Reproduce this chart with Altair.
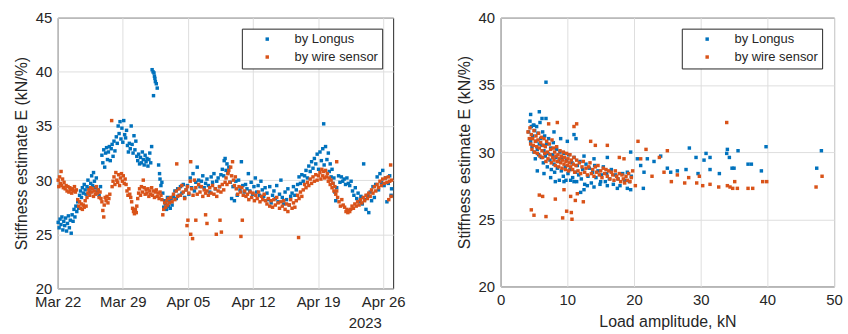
import altair as alt
import pandas as pd

# ---------------- data ----------------
series_names = ["by Longus", "by wire sensor"]
series_colors = ["#0072BD", "#D95319"]
tick_days = [0, 7, 14, 21, 28, 35]
tick_labels = ["Mar 22", "Mar 29", "Apr 05", "Apr 12", "Apr 19", "Apr 26"]
year_label = "2023"
y_ticks_left = [20, 25, 30, 35, 40, 45]
y_ticks_right = [20, 25, 30, 35, 40]
x_ticks_right = [0, 10, 20, 30, 40, 50]

# left panel: (days since Mar 22, stiffness) by Longus
longus_time = [
    (0.05,26.1),(0.15,25.6),(0.25,26.4),(0.35,25.9),(0.45,26.6),(0.55,25.4),(0.65,26.2),(0.75,25.8),
    (0.85,26.5),(0.95,25.3),(1.05,26.0),(1.15,26.7),(1.25,25.6),(1.35,26.3),(1.45,25.1),(1.55,26.8),
    (1.65,26.2),(1.75,27.3),(1.85,26.6),(1.95,27.6),(2.05,27.1),(2.15,28.0),(2.25,27.4),(2.35,28.6),
    (2.45,29.0),(2.55,28.4),(2.65,29.3),(2.75,28.8),(2.85,29.6),(2.95,29.1),(3.05,28.7),(3.15,29.4),
    (3.25,30.0),(3.35,29.2),(3.45,28.9),(3.55,29.7),(3.65,30.4),(3.75,29.5),(3.85,30.7),(3.95,29.9),
    (4.05,29.3),(4.15,30.2),(4.25,28.9),(4.35,29.1),(4.45,28.6),(4.6,29.4),
    (4.75,32.3),(4.85,31.6),(4.95,32.8),(5.05,31.2),(5.15,32.5),(5.25,33.0),(5.35,31.9),(5.45,32.6),
    (5.55,33.1),(5.65,31.8),(5.75,32.9),(5.85,33.3),(5.95,32.2),(6.05,33.6),(6.15,32.7),
    (6.3,34.0),(6.4,33.4),(6.5,35.0),(6.6,34.3),(6.7,35.4),(6.8,33.8),(6.9,34.8),(7.0,33.5),
    (7.1,35.5),(7.2,34.2),(7.3,33.9),(7.4,34.6),(7.5,33.2),
    (7.6,32.6),(7.7,33.4),(7.8,32.9),(7.9,35.0),(8.0,33.3),(8.1,32.5),(8.2,34.1),(8.3,32.8),(8.4,33.6),(8.5,32.2),
    (8.6,31.8),(8.7,32.4),(8.8,31.5),(8.9,32.1),(9.0,31.6),(9.1,32.6),(9.2,31.9),(9.3,31.4),(9.4,32.3),
    (9.5,31.7),(9.6,32.0),(9.7,31.3),(9.8,31.9),(9.9,32.5),(10.0,31.6),(10.1,33.1),
    (10.15,40.2),(10.25,40.0),(10.3,37.8),(10.35,39.9),(10.4,39.6),(10.45,39.4),(10.5,39.1),(10.6,38.9),(10.7,38.5),
    (10.85,31.4),(10.95,30.6),(11.0,30.1),(11.1,29.5),(11.2,29.8),(11.3,28.8),
    (11.4,27.5),(11.5,28.1),(11.6,27.8),(11.7,27.3),(11.8,28.4),(11.9,27.6),(12.0,28.0),(12.1,27.4),(12.2,28.3),(12.3,27.7),
    (12.45,28.5),(12.6,29.0),(12.75,28.3),(12.9,29.2),(13.05,28.6),(13.2,29.4),(13.35,28.8),(13.5,29.6),(13.65,28.4),(13.8,29.1),
    (13.95,29.5),(14.1,28.7),(14.25,30.2),(14.4,29.3),(14.55,30.6),(14.7,29.0),(14.85,29.8),(15.0,31.2),(15.15,30.0),(15.3,29.4),
    (15.45,29.9),(15.6,30.4),(15.75,29.3),(15.9,29.7),(16.05,30.1),(16.2,29.5),(16.35,28.9),(16.5,30.3),(16.65,29.8),
    (16.8,30.6),(16.95,29.2),(17.1,29.9),(17.25,30.2),(17.4,29.4),(17.55,30.5),(17.7,31.0),(17.85,30.4),
    (17.9,31.8),(18.0,32.0),(18.1,30.9),(18.2,31.5),(18.3,30.7),(18.4,31.2),
    (18.55,29.8),(18.7,28.3),(18.85,29.4),(19.0,28.1),(19.15,29.9),(19.3,28.6),(19.45,30.0),(19.6,29.1),(19.75,31.7),
    (19.9,29.5),(20.05,28.9),(20.2,29.6),
    (20.35,29.2),(20.5,30.6),(20.65,29.0),(20.8,29.8),(20.95,28.7),(21.1,29.4),(21.25,30.2),(21.4,28.9),(21.55,29.5),
    (21.7,28.6),(21.85,29.9),(22.0,29.1),(22.15,28.5),(22.3,29.3),
    (22.5,28.8),(22.65,28.2),(22.8,29.4),(22.95,27.9),(23.1,28.6),(23.25,29.0),(23.4,28.3),(23.55,29.5),(23.7,28.0),
    (23.85,28.7),(24.0,30.0),(24.15,28.4),(24.3,27.8),(24.45,28.9),(24.6,28.2),(24.75,29.2),(24.9,27.7),(25.05,28.5),
    (25.2,28.8),(25.35,29.4),(25.5,28.6),(25.65,29.1),(25.8,29.6),
    (25.95,30.3),(26.1,29.7),(26.25,30.5),(26.4,29.9),(26.55,30.4),(26.7,30.9),(26.85,30.2),(27.0,31.3),
    (27.15,30.8),(27.3,31.7),(27.45,31.1),(27.6,32.0),(27.75,31.5),(27.9,32.4),(28.05,31.0),(28.2,32.6),(28.35,31.8),
    (28.6,35.2),(28.5,32.9),(28.65,31.4),(28.8,33.1),(28.95,31.9),(29.1,32.5),
    (29.2,30.8),(29.3,31.5),(29.4,30.3),(29.5,31.0),(29.6,29.7),(29.7,30.2),(29.8,28.9),(29.9,28.1),(30.0,29.3),
    (30.2,30.4),(30.35,29.8),(30.5,30.3),(30.65,29.9),(30.8,30.1),(30.95,29.6),(31.1,30.2),(31.25,29.7),(31.4,29.5),(31.55,29.9),
    (31.7,29.0),(31.85,28.6),(32.0,29.3),(32.15,28.3),(32.3,28.8),(32.45,28.0),(32.6,28.5),(32.75,27.8),
    (32.9,31.5),(33.0,28.2),(33.15,27.3),(33.3,28.6),(33.45,27.0),(33.6,28.9),(33.75,28.1),(33.9,29.4),(34.05,28.4),
    (34.2,29.6),(34.35,30.3),(34.5,29.1),(34.65,30.6),(34.8,29.8),(34.95,30.9),(35.1,29.5),(35.25,30.2),(35.4,28.0),
    (35.55,29.7),(35.7,30.4),(35.85,28.6),(35.9,29.2),
]

# left panel: (days since Mar 22, stiffness) by wire sensor
wire_time = [
    (0.05,30.0),(0.12,29.4),(0.2,30.3),(0.28,29.7),(0.36,30.8),(0.44,29.5),(0.52,30.1),(0.6,29.3),(0.68,29.8),
    (0.8,29.2),(0.9,29.5),(1.0,29.0),(1.1,29.4),(1.2,28.9),(1.3,29.3),(1.4,29.1),(1.5,28.8),(1.6,29.2),(1.7,29.0),
    (1.8,29.4),(1.9,28.9),(2.0,29.1),
    (2.15,28.2),(2.25,27.6),(2.35,28.0),(2.45,27.4),(2.55,27.8),(2.65,27.3),(2.75,27.7),(2.85,27.5),(2.95,28.1),(3.05,27.6),(3.15,28.4),
    (3.25,28.8),(3.35,29.1),(3.45,28.6),(3.55,29.3),(3.65,28.9),(3.75,29.2),(3.85,28.5),(3.95,29.0),(4.05,28.7),
    (4.15,29.4),(4.25,28.8),(4.35,29.1),(4.45,28.4),(4.55,28.9),
    (4.65,28.3),(4.75,28.0),(4.85,27.2),(4.95,26.6),(5.0,27.7),(5.1,28.4),(5.2,28.1),(5.3,28.5),(5.4,27.9),(5.5,28.3),(5.6,28.7),
    (5.8,35.5),
    (5.85,29.4),(5.95,29.9),(6.05,30.3),(6.15,29.6),(6.25,30.7),(6.35,30.0),(6.45,29.8),(6.55,30.5),(6.65,29.5),
    (6.75,30.2),(6.85,30.6),(6.95,29.9),(7.05,30.4),(7.15,29.7),(7.25,30.1),(7.35,29.6),
    (7.45,29.0),(7.55,28.6),(7.65,29.2),(7.75,28.7),(7.85,28.4),(7.95,28.0),
    (8.05,27.4),(8.15,27.1),(8.25,26.9),(8.35,27.3),(8.45,27.0),(8.5,27.6),
    (8.6,28.3),(8.7,28.8),(8.8,29.2),(8.9,28.6),(9.0,29.4),(9.1,28.9),(9.2,30.0),(9.3,29.3),(9.4,28.7),(9.5,29.1),
    (9.6,28.8),(9.7,29.2),(9.8,28.5),(9.9,29.0),(10.0,28.7),(10.1,29.3),(10.2,28.6),(10.3,29.0),(10.4,28.4),
    (10.5,28.9),(10.6,29.1),(10.7,28.5),(10.8,28.8),(10.9,28.3),(11.0,28.9),(11.1,28.6),(11.2,28.2),
    (11.3,26.8),(11.4,27.3),(11.5,27.9),(11.6,27.5),(11.7,28.1),(11.8,27.7),(11.9,28.3),
    (12.0,27.9),(12.15,28.4),(12.3,28.0),(12.45,28.7),(12.6,28.2),(12.75,29.0),(12.8,31.5),(12.9,28.5),(13.05,29.2),
    (13.2,28.6),(13.35,29.5),(13.5,28.9),(13.65,28.3),(13.8,29.1),
    (13.95,29.4),(14.1,28.8),(14.25,29.9),(14.3,31.7),(14.4,29.2),(14.55,28.6),(14.7,30.0),(14.85,29.3),(15.0,28.7),
    (15.15,29.6),(15.3,28.9),(15.45,29.4),(15.6,28.5),(15.75,29.1),(15.9,28.8),
    (14.0,26.3),(13.9,25.8),(14.3,25.0),(14.5,24.6),(14.85,26.3),
    (16.05,29.0),(16.2,28.6),(16.35,29.3),(16.5,28.8),(16.65,29.5),(16.8,28.7),(16.95,29.2),(17.1,28.5),(17.25,29.0),
    (17.4,29.4),(17.55,28.9),(17.7,29.6),(17.85,29.1),(18.0,29.8),
    (15.9,26.8),(16.05,26.0),(17.05,25.0),(17.6,25.2),(17.45,26.3),
    (18.1,30.2),(18.2,29.6),(18.3,30.6),(18.4,30.9),(18.5,29.8),(18.6,31.2),(18.7,30.4),(18.8,31.7),(18.9,30.0),(19.0,29.5),(19.1,30.3),
    (19.2,29.2),(19.35,28.7),(19.5,29.4),(19.65,28.9),(19.8,29.3),(19.95,28.6),(20.1,29.0),(20.25,28.5),
    (19.7,24.8),(19.85,26.3),
    (20.4,28.7),(20.55,28.2),(20.7,28.9),(20.85,28.4),(21.0,28.8),(21.15,28.1),(21.3,28.6),(21.45,28.3),(21.6,28.9),
    (21.75,28.0),(21.9,28.5),(22.05,28.2),(22.2,28.7),(22.35,28.1),
    (22.5,27.8),(22.65,28.3),(22.8,27.6),(22.95,28.1),(23.1,27.5),(23.25,28.2),(23.4,27.7),(23.55,28.4),(23.7,27.9),
    (23.85,27.4),(24.0,28.0),
    (24.15,27.6),(24.3,28.1),(24.45,27.3),(24.6,27.8),(24.75,27.1),(24.9,27.7),(25.05,28.2),(25.2,27.4),(25.35,27.9),(25.5,27.5),
    (25.65,28.1),(25.8,28.6),(25.95,28.3),(26.1,28.9),(26.25,28.5),(25.9,24.7),
    (26.4,29.1),(26.55,29.6),(26.7,29.3),(26.85,29.8),(27.0,29.5),(27.15,30.1),(27.3,29.7),(27.45,30.3),(27.6,29.9),
    (27.75,30.5),(27.9,30.0),(28.05,30.4),
    (28.2,30.7),(28.3,30.1),(28.4,31.0),(28.5,30.4),(28.6,30.8),(28.7,30.2),(28.8,30.9),(28.9,30.3),(29.0,30.6),(29.1,29.9),
    (29.2,30.2),(29.3,29.6),(29.4,30.0),(29.5,29.3),(29.6,29.7),(29.7,29.0),(29.8,29.4),(29.9,28.7),(30.0,29.0),(30.1,28.4),
    (30.0,31.7),
    (30.25,28.0),(30.4,27.6),(30.55,28.2),(30.7,27.7),(30.85,27.5),
    (31.0,27.1),(31.1,27.3),(31.2,27.0),(31.3,27.2),(31.4,27.1),(31.5,27.3),
    (31.65,27.6),(31.8,27.4),(31.95,27.8),(32.1,27.6),(32.25,28.0),(32.4,27.7),(32.55,28.2),(32.7,27.9),(32.85,28.4),
    (33.0,28.1),(33.15,28.6),(33.3,28.3),
    (33.45,28.8),(33.6,28.5),(33.75,29.1),(33.9,28.8),(34.05,29.4),(34.2,29.0),(34.35,29.6),(34.5,29.3),(34.65,29.9),(34.8,29.5),
    (34.95,30.1),(35.1,29.7),(35.25,30.2),(35.4,29.8),(35.55,30.3),(35.6,28.2),(35.7,29.9),(35.8,31.4),(35.85,28.5),(35.9,30.0),
]

# right panel: (load amplitude kN, stiffness) by Longus
longus_load = [
    (4.2,31.5),(4.4,32.3),(4.5,30.8),(4.6,31.9),(4.7,30.4),(4.8,31.2),(4.9,32.0),(5.0,30.0),(5.1,31.6),(5.2,29.5),
    (5.3,30.8),(5.4,31.9),(5.5,30.2),(5.6,31.4),(5.7,29.8),(5.8,30.6),(5.9,32.2),(6.0,31.0),
    (6.1,29.6),(6.2,30.5),(6.3,31.5),(6.4,29.2),(6.5,30.1),(6.6,31.2),(6.7,29.7),(6.9,30.6),(7.0,28.9),(7.1,29.9),
    (7.2,31.0),(7.4,29.4),(7.5,30.3),(7.6,28.7),(7.8,29.8),(7.9,30.7),
    (8.0,29.1),(8.1,28.5),(8.3,29.6),(8.4,30.2),(8.5,28.8),(8.7,29.3),(8.8,27.9),(8.9,30.0),(9.1,28.6),(9.2,29.5),
    (9.4,28.2),(9.5,29.9),(9.7,28.9),(9.8,27.9),(9.9,29.4),
    (10.1,28.4),(10.2,29.8),(10.4,28.7),(10.5,27.9),(10.7,29.2),(10.8,28.1),(11.0,29.6),(11.2,28.5),(11.4,27.8),
    (11.5,29.0),(11.7,28.3),(11.9,29.3),(12.1,28.0),(12.3,28.7),(12.6,27.6),(12.8,29.1),
    (13.1,28.2),(13.3,28.8),(13.6,27.7),(13.8,28.5),(14.1,29.0),(14.3,28.1),(14.6,28.6),(14.9,27.6),(15.1,28.3),
    (15.4,28.9),(15.7,27.8),(15.9,28.4),
    (16.3,28.0),(16.6,28.7),(16.9,27.6),(17.2,28.3),(17.6,28.0),(17.9,27.5),(18.3,28.4),(18.6,27.9),(19.0,28.5),
    (19.3,27.8),(19.6,28.2),
    (6.8,35.2),
    (5.5,28.6),(6.5,28.4),(7.5,28.1),(8.2,27.8),(9.5,27.8),(11.0,27.8),(12.0,27.0),(12.5,27.2),(13.0,27.5),
    (14.0,27.4),(15.0,27.8),(16.0,27.5),(17.5,27.3),(19.0,27.3),(19.5,27.2),(21.4,27.3),
    (4.5,32.8),(5.0,32.0),(5.8,33.0),(6.2,32.5),(6.8,32.5),(8.0,31.5),(9.0,31.0),(10.0,30.8),(11.0,31.3),(11.3,31.0),
    (12.5,29.7),(14.0,29.5),(16.0,29.6),(19.5,30.0),
    (20.5,29.5),(21.0,29.0),(21.5,28.5),(22.0,29.5),(23.0,29.3),(24.0,29.7),(25.0,28.8),(25.5,28.5),(26.5,28.6),
    (27.8,28.7),(28.3,30.3),(29.3,29.6),(29.6,28.4),(30.5,29.4),(30.8,29.9),(31.4,29.6),(31.4,28.7),(32.8,28.4),
    (33.9,29.9),(34.0,30.2),(34.3,29.6),(34.7,28.8),(35.0,28.8),(35.6,30.1),(37.1,29.1),(37.6,29.1),(39.1,28.6),
    (39.8,30.4),(47.4,28.8),(48.1,30.1),
]

# right panel: (load amplitude kN, stiffness) by wire sensor
wire_load = [
    (4.1,31.5),(4.3,31.0),(4.4,31.8),(4.5,30.6),(4.6,31.3),(4.7,30.2),(4.8,31.0),(4.9,30.5),(5.0,31.6),(5.1,30.0),
    (5.2,30.8),(5.3,31.2),(5.4,30.4),(5.5,29.9),(5.6,30.9),(5.7,31.4),(5.8,30.3),(5.9,29.7),(6.0,30.7),
    (6.1,31.1),(6.2,30.1),(6.3,29.6),(6.4,30.5),(6.5,31.0),(6.6,29.9),(6.7,30.4),(6.8,29.3),(6.9,30.8),(7.0,30.0),
    (7.1,29.5),(7.3,30.6),(7.4,29.8),(7.5,30.2),(7.6,29.2),(7.7,30.9),(7.8,29.6),(7.9,30.3),
    (8.0,29.4),(8.1,30.0),(8.2,29.0),(8.3,29.7),(8.4,30.4),(8.5,29.3),(8.6,29.8),(8.7,28.9),(8.8,29.5),(8.9,30.1),
    (9.0,29.2),(9.1,29.7),(9.2,28.8),(9.3,29.4),(9.4,30.0),(9.5,29.1),(9.6,29.6),(9.7,28.7),(9.8,29.3),(9.9,29.9),
    (10.0,29.0),(10.1,29.5),(10.2,28.6),(10.3,29.2),(10.4,29.8),(10.5,28.9),(10.6,29.4),(10.8,28.7),(10.9,29.1),
    (11.0,29.6),(11.1,28.5),(11.3,29.0),(11.4,29.4),(11.6,28.6),(11.8,29.2),(12.0,28.4),(12.2,28.9),(12.4,29.3),
    (12.6,28.5),(12.8,28.8),
    (13.0,28.3),(13.2,28.9),(13.4,29.2),(13.6,28.4),(13.8,28.7),(14.0,28.2),(14.2,28.9),(14.4,28.5),(14.6,29.0),
    (14.8,28.3),(15.0,28.6),(15.2,28.1),(15.4,28.8),(15.6,28.4),(15.8,28.7),
    (16.0,28.2),(16.2,28.6),(16.4,28.0),(16.6,28.5),(16.8,28.3),(17.0,27.9),(17.2,28.6),(17.4,28.2),(17.6,28.0),
    (17.8,28.4),(18.0,27.8),(18.2,28.3),(18.4,28.0),(18.6,27.7),(18.8,28.2),(19.0,27.9),(19.2,28.4),(19.4,27.8),
    (19.6,28.1),(19.8,28.6),
    (4.6,25.7),(5.0,25.3),(5.8,26.8),(6.3,26.7),(6.8,25.2),(8.2,26.5),(9.3,25.1),(9.9,25.6),(10.6,25.5),(10.7,25.0),
    (11.2,26.4),(11.5,26.9),(12.4,26.3),(9.5,27.2),(10.5,26.7),
    (7.2,32.1),(8.5,32.2),(11.0,31.9),(11.4,32.1),(13.5,30.8),(14.2,30.5),(16.0,30.5),(17.8,29.6),(18.5,29.5),
    (20.2,27.5),(20.6,30.8),(21.0,29.5),(21.8,30.2),(22.7,28.2),(23.8,29.6),(24.5,28.5),(25.0,30.1),(25.6,27.8),
    (26.5,28.3),(27.6,27.7),(28.2,28.1),(29.4,27.7),(29.8,28.2),(30.3,27.5),(31.4,27.6),(32.7,27.4),(33.9,32.2),
    (34.0,27.5),(34.4,27.4),(34.8,27.3),(35.1,27.8),(35.5,27.3),(37.1,27.3),(37.8,27.3),(39.3,27.8),(39.9,27.8),
    (47.3,27.4),(48.2,28.2),
]

# ---------------- tables ----------------
def table(pairs_a, pairs_b, xname):
    rows = [{xname: x, "E": e, "series": series_names[0]} for x, e in pairs_a]
    rows += [{xname: x, "E": e, "series": series_names[1]} for x, e in pairs_b]
    return pd.DataFrame(rows)

df_left = table(longus_time, wire_time, "day")
df_right = table(longus_load, wire_load, "load")
df_year = pd.DataFrame({"day": [tick_days[-1]], "t": [year_label]})

TXT = "#262626"
label_expr = "[" + ",".join("'%s'" % s for s in tick_labels) + "][round(datum.value/7)]"

def legend(x, y):
    return alt.Legend(
        title=None, orient="none", legendX=x, legendY=y,
        fillColor="white", strokeColor=TXT, padding=4, cornerRadius=0,
        symbolType="square", symbolSize=12, symbolStrokeWidth=0,
        symbolOffset=15, labelOffset=21, labelFontSize=13, labelColor=TXT,
        rowPadding=4, labelLimit=0,
    )

color_left = alt.Color("series:N", scale=alt.Scale(domain=series_names, range=series_colors),
                       legend=legend(185, 11))
color_right = alt.Color("series:N", scale=alt.Scale(domain=series_names, range=series_colors),
                        legend=legend(182, 11))

pts_left = alt.Chart(df_left).mark_square(size=12, opacity=1).encode(
    x=alt.X("day:Q", scale=alt.Scale(domain=[0, 36.07], nice=False, zero=False),
            axis=alt.Axis(values=tick_days, labelExpr=label_expr, title=None,
                          labelFlush=False, labelOverlap=False)),
    y=alt.Y("E:Q", scale=alt.Scale(domain=[20, 45], nice=False, zero=False),
            axis=alt.Axis(values=y_ticks_left, title="Stiffness estimate E (kN/%)")),
    color=color_left,
)

year_text = alt.Chart(df_year).mark_text(
    fontSize=15, color=TXT, baseline="alphabetic", align="center", dx=-18
).encode(
    x=alt.X("day:Q", title=None),
    y=alt.value(312),
    text="t:N",
)

left = alt.layer(pts_left, year_text).properties(width=337, height=272)

right = alt.Chart(df_right).mark_square(size=12, opacity=1).encode(
    x=alt.X("load:Q", scale=alt.Scale(domain=[0, 50], nice=False, zero=False),
            axis=alt.Axis(values=x_ticks_right, title="Load amplitude, kN",
                          labelFlush=False, labelOverlap=False)),
    y=alt.Y("E:Q", scale=alt.Scale(domain=[20, 40], nice=False, zero=False),
            axis=alt.Axis(values=y_ticks_right, title="Stiffness estimate E (kN/%)")),
    color=color_right,
).properties(width=335, height=270)

chart = alt.hconcat(left, right, spacing=108, bounds="flush").resolve_scale(
    color="independent"
).properties(
    padding={"left": 12, "top": 9, "right": 5, "bottom": 2}
).configure(
    font="Liberation Sans"
).configure_view(
    stroke=TXT, strokeWidth=1
).configure_axis(
    domain=False, ticks=False, grid=True, gridColor="#dedede", gridWidth=1,
    labelFontSize=15, labelColor=TXT, labelPadding=6,
    titleFontSize=16, titleFontWeight="normal", titleColor=TXT, titlePadding=6,
)

chart.save("out.html", embed_options={"renderer": "svg", "actions": False})
